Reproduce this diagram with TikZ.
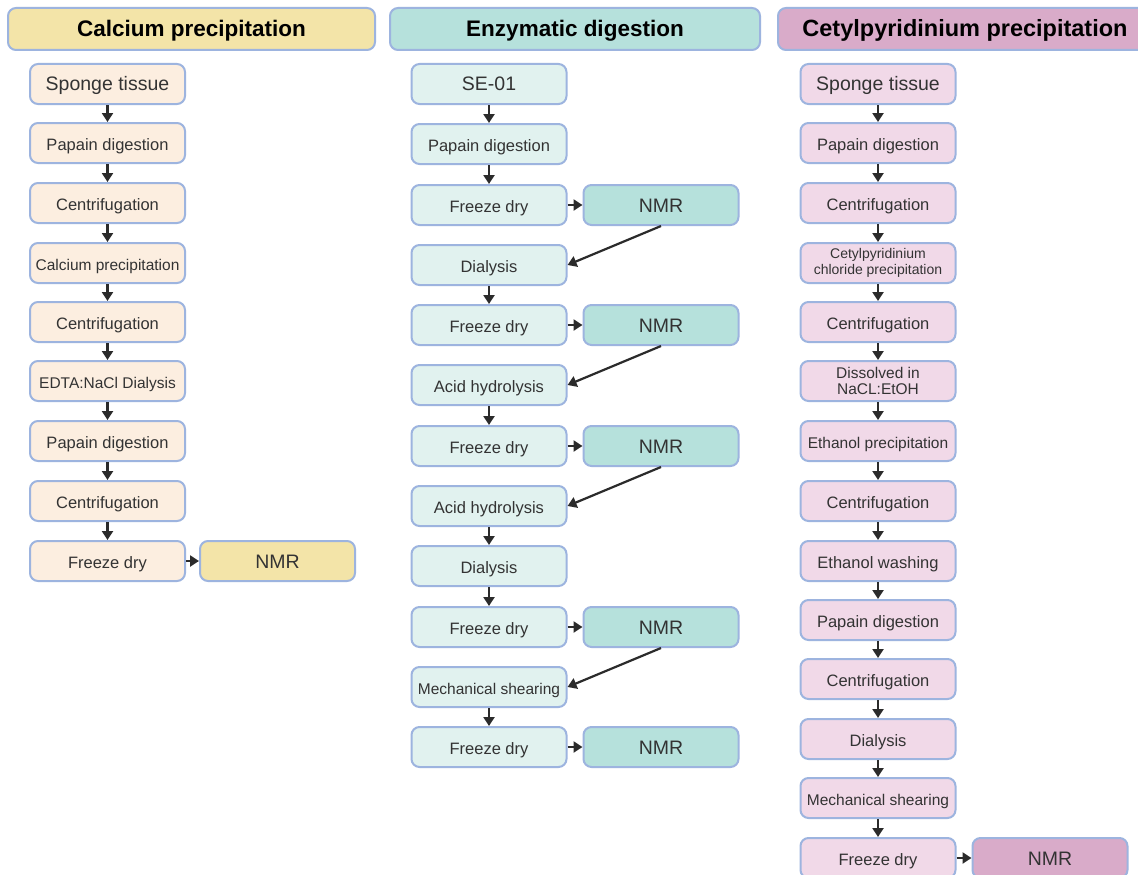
\documentclass[tikz,border=0pt]{standalone}
\usepackage{fontspec}
\setmainfont{Liberation Sans}
\usepackage{xcolor}
\usetikzlibrary{arrows.meta}

\definecolor{edgeblue}{HTML}{9DB4DF}
\definecolor{calbox}{HTML}{FCEEE0}
\definecolor{calhead}{HTML}{F3E4A8}
\definecolor{enzbox}{HTML}{E1F2EF}
\definecolor{enzhead}{HTML}{B6E1DC}
\definecolor{cetbox}{HTML}{F1D9E8}
\definecolor{cethead}{HTML}{D9ABC9}
\definecolor{arrowgray}{HTML}{2B2B2B}
\definecolor{textgray}{HTML}{333333}

\begin{document}
\begin{tikzpicture}[x=1pt, y=-1pt,
    every node/.style={rounded corners=8pt, draw=edgeblue, line width=2pt,
        align=center, inner sep=1pt, text=textgray,
        text height=16pt, text depth=2pt,
        font=\fontsize{16.5}{19}\selectfont},
    head/.style={minimum height=42pt, text=black, text height=19pt, text depth=3pt,
        font=\fontsize{22.5}{26}\selectfont\bfseries},
    stepbox/.style={minimum width=155pt, minimum height=40pt},
    twoline/.style={text height=, text depth=},
    small/.style={font=\fontsize{15.5}{16.5}\selectfont},
    big/.style={font=\fontsize{19.5}{22}\selectfont},
    flow/.style={draw=arrowgray, line width=2.2pt,
        -{Triangle[length=9pt, width=11pt]}}]
    \useasboundingbox (0,0) rectangle (1138,875);
    \fill[white] (0,0) rectangle (1138,875);
    \clip (0,0) rectangle (1138,875);

    % headers
    \node[head, fill=calhead, minimum width=367pt] (h1) at (191.5,29) {Calcium precipitation};
    \node[head, fill=enzhead, minimum width=370pt] (h2) at (575,29) {Enzymatic digestion};
    \node[head, fill=cethead, minimum width=374pt, font=\fontsize{23.5}{26}\selectfont\bfseries] (h3) at (965,29) {Cetylpyridinium precipitation};

    % calcium precipitation
    \node[stepbox, fill=calbox, big] (c1a) at (107.5,84) {Sponge tissue};
    \node[stepbox, fill=calbox] (c1b) at (107.5,143) {Papain digestion};
    \node[stepbox, fill=calbox] (c1c) at (107.5,203) {Centrifugation};
    \node[stepbox, fill=calbox, small] (c1d) at (107.5,263) {Calcium precipitation};
    \node[stepbox, fill=calbox] (c1e) at (107.5,322) {Centrifugation};
    \node[stepbox, fill=calbox, small] (c1f) at (107.5,381) {EDTA:NaCl Dialysis};
    \node[stepbox, fill=calbox] (c1g) at (107.5,441) {Papain digestion};
    \node[stepbox, fill=calbox] (c1h) at (107.5,501) {Centrifugation};
    \node[stepbox, fill=calbox] (c1i) at (107.5,561) {Freeze dry};
    \node[stepbox, fill=calhead, big] (n1) at (277.5,561) {NMR};

    \draw[flow] (c1a) -- (c1b);
    \draw[flow] (c1b) -- (c1c);
    \draw[flow] (c1c) -- (c1d);
    \draw[flow] (c1d) -- (c1e);
    \draw[flow] (c1e) -- (c1f);
    \draw[flow] (c1f) -- (c1g);
    \draw[flow] (c1g) -- (c1h);
    \draw[flow] (c1h) -- (c1i);
    \draw[flow] (c1i) -- (n1);

    % enzymatic digestion
    \node[stepbox, fill=enzbox, big] (e1) at (489,84) {SE-01};
    \node[stepbox, fill=enzbox] (e2) at (489,144) {Papain digestion};
    \node[stepbox, fill=enzbox] (e3) at (489,205) {Freeze dry};
    \node[stepbox, fill=enzbox] (e4) at (489,265) {Dialysis};
    \node[stepbox, fill=enzbox] (e5) at (489,325) {Freeze dry};
    \node[stepbox, fill=enzbox] (e6) at (489,385) {Acid hydrolysis};
    \node[stepbox, fill=enzbox] (e7) at (489,446) {Freeze dry};
    \node[stepbox, fill=enzbox] (e8) at (489,506) {Acid hydrolysis};
    \node[stepbox, fill=enzbox] (e9) at (489,566) {Dialysis};
    \node[stepbox, fill=enzbox] (e10) at (489,627) {Freeze dry};
    \node[stepbox, fill=enzbox, small] (e11) at (489,687) {Mechanical shearing};
    \node[stepbox, fill=enzbox] (e12) at (489,747) {Freeze dry};

    \node[stepbox, fill=enzhead, big] (n3) at (661,205) {NMR};
    \node[stepbox, fill=enzhead, big] (n5) at (661,325) {NMR};
    \node[stepbox, fill=enzhead, big] (n7) at (661,446) {NMR};
    \node[stepbox, fill=enzhead, big] (n10) at (661,627) {NMR};
    \node[stepbox, fill=enzhead, big] (n12) at (661,747) {NMR};

    \draw[flow] (e1) -- (e2);
    \draw[flow] (e2) -- (e3);
    \draw[flow] (e3) -- (n3);
    \draw[flow] (n3.south) -- (e4.east);
    \draw[flow] (e4) -- (e5);
    \draw[flow] (e5) -- (n5);
    \draw[flow] (n5.south) -- (e6.east);
    \draw[flow] (e6) -- (e7);
    \draw[flow] (e7) -- (n7);
    \draw[flow] (n7.south) -- (e8.east);
    \draw[flow] (e8) -- (e9);
    \draw[flow] (e9) -- (e10);
    \draw[flow] (e10) -- (n10);
    \draw[flow] (n10.south) -- (e11.east);
    \draw[flow] (e11) -- (e12);
    \draw[flow] (e12) -- (n12);

    % cetylpyridinium precipitation
    \node[stepbox, fill=cetbox, big] (p1) at (878,84) {Sponge tissue};
    \node[stepbox, fill=cetbox] (p2) at (878,143) {Papain digestion};
    \node[stepbox, fill=cetbox] (p3) at (878,203) {Centrifugation};
    \node[stepbox, twoline, fill=cetbox, font=\fontsize{14}{16}\selectfont] (p4) at (878,263) {Cetylpyridinium\\chloride precipitation};
    \node[stepbox, fill=cetbox] (p5) at (878,322) {Centrifugation};
    \node[stepbox, twoline, fill=cetbox, font=\fontsize{15.5}{16.5}\selectfont] (p6) at (878,381) {Dissolved in\\NaCL:EtOH};
    \node[stepbox, fill=cetbox, small] (p7) at (878,441) {Ethanol precipitation};
    \node[stepbox, fill=cetbox] (p8) at (878,501) {Centrifugation};
    \node[stepbox, fill=cetbox] (p9) at (878,561) {Ethanol washing};
    \node[stepbox, fill=cetbox] (p10) at (878,620) {Papain digestion};
    \node[stepbox, fill=cetbox] (p11) at (878,679) {Centrifugation};
    \node[stepbox, fill=cetbox] (p12) at (878,739) {Dialysis};
    \node[stepbox, fill=cetbox, small] (p13) at (878,798) {Mechanical shearing};
    \node[stepbox, fill=cetbox] (p14) at (878,858) {Freeze dry};
    \node[stepbox, fill=cethead, big] (n14) at (1050,858) {NMR};

    \draw[flow] (p1) -- (p2);
    \draw[flow] (p2) -- (p3);
    \draw[flow] (p3) -- (p4);
    \draw[flow] (p4) -- (p5);
    \draw[flow] (p5) -- (p6);
    \draw[flow] (p6) -- (p7);
    \draw[flow] (p7) -- (p8);
    \draw[flow] (p8) -- (p9);
    \draw[flow] (p9) -- (p10);
    \draw[flow] (p10) -- (p11);
    \draw[flow] (p11) -- (p12);
    \draw[flow] (p12) -- (p13);
    \draw[flow] (p13) -- (p14);
    \draw[flow] (p14) -- (n14);
\end{tikzpicture}
\end{document}
